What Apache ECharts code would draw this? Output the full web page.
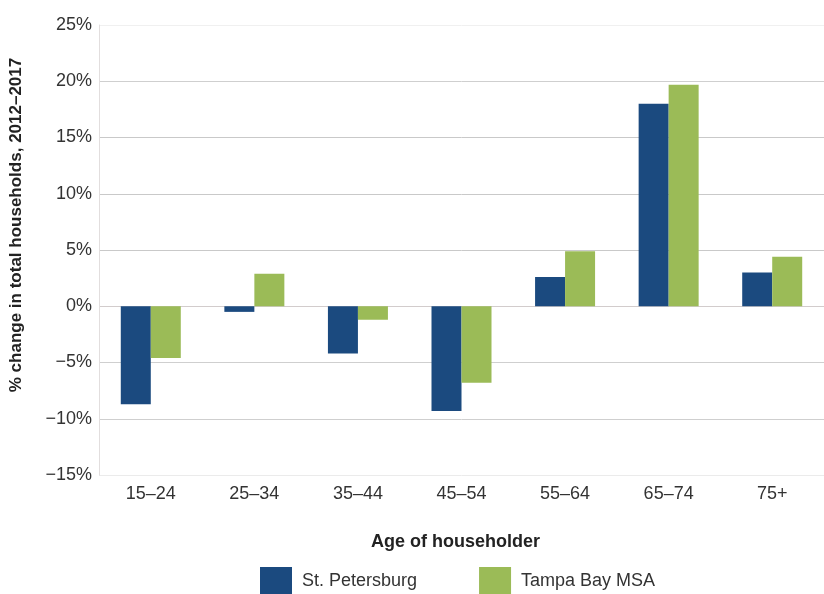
<!DOCTYPE html>
<html>
<head>
<meta charset="utf-8">
<script src="https://cdn.jsdelivr.net/npm/echarts@6/dist/echarts.min.js"></script>
<style>
  html, body { margin: 0; padding: 0; background: #fff; }
  #chart { width: 824px; height: 594px; }
</style>
</head>
<body>
<div id="chart"></div>
<script>
// Household change by age of householder, 2012–2017
const ageGroups = ['15–24', '25–34', '35–44', '45–54', '55–64', '65–74', '75+'];
const stPetersburg = [-8.7, -0.5, -4.2, -9.3, 2.6, 18.0, 3.0];
const tampaBayMSA = [-4.6, 2.9, -1.2, -6.8, 4.9, 19.7, 4.4];
const seriesNames = ['St. Petersburg', 'Tampa Bay MSA'];

const FONT = '"Liberation Sans Narrow", "Liberation Sans", Arial, sans-serif';
const NAVY = '#1b4a7f';
const GREEN = '#9bbb57';

const chart = echarts.init(document.getElementById('chart'), null, { renderer: 'canvas' });

chart.setOption({
  animation: false,
  backgroundColor: '#ffffff',
  textStyle: { fontFamily: FONT },
  grid: { left: 98, right: -14, top: 25, bottom: 119 },
  legend: {
    data: seriesNames,
    left: 260,
    top: 567,
    padding: 0,
    itemWidth: 32,
    itemHeight: 28,
    itemGap: 62,
    icon: 'rect',
    textStyle: { fontFamily: FONT, fontSize: 18, color: '#333', padding: [0, 0, 0, 5] }
  },
  xAxis: {
    type: 'category',
    data: ageGroups,
    name: 'Age of householder',
    nameLocation: 'middle',
    nameGap: 58,
    nameTextStyle: { fontFamily: FONT, fontSize: 18, fontWeight: 'bold', color: '#222', padding: [0, 12, 0, 0] },
    axisLine: { show: false },
    axisTick: { show: false },
    axisLabel: { fontFamily: FONT, fontSize: 18, color: '#333', margin: 10 }
  },
  yAxis: {
    type: 'value',
    min: -15,
    max: 25,
    interval: 5,
    name: '% change in total households, 2012–2017',
    nameLocation: 'middle',
    nameGap: 74,
    nameRotate: 90,
    nameTextStyle: { fontFamily: FONT, fontSize: 17, fontWeight: 'bold', color: '#222', padding: [0, 0, 0, 50] },
    axisLine: { show: true, lineStyle: { color: '#e2dede', width: 1 } },
    axisTick: { show: false },
    axisLabel: {
      fontFamily: FONT, fontSize: 18, color: '#333', margin: 7,
      formatter: v => (v < 0 ? '\u2212' + Math.abs(v) : v) + '%'
    },
    splitLine: {
      show: true,
      lineStyle: {
        color: ['#ebebeb', '#cfcfcf', '#cfcfcf', '#d2cccc', '#c9c9c9', '#c9c9c9', '#c9c9c9', '#cfcfcf', '#f0f0f0'],
        width: 1
      }
    }
  },
  series: [
    {
      name: seriesNames[0],
      type: 'bar',
      data: stPetersburg,
      barWidth: 30,
      barGap: '0%',
      itemStyle: { color: NAVY }
    },
    {
      name: seriesNames[1],
      type: 'bar',
      data: tampaBayMSA,
      barWidth: 30,
      barGap: '0%',
      itemStyle: { color: GREEN }
    }
  ]
});
</script>
</body>
</html>
